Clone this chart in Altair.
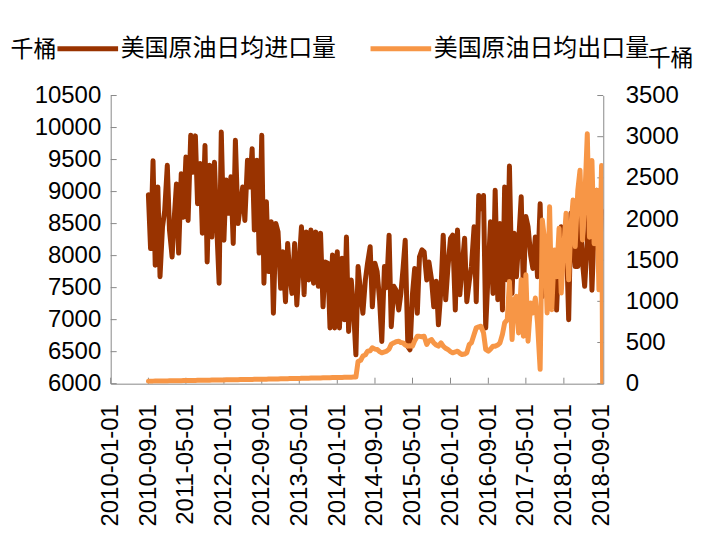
import altair as alt
import pandas as pd

# ---- data ----
import_vals = [
    8950, 8110, 9480, 7850, 9070, 7670, 8450, 8700, 9410, 8400,
    7980, 8600, 9120, 8040, 9280, 8600, 9540, 8550, 9880, 9300,
    9870, 8810, 9440, 8350, 9720, 7900, 9410, 8290, 9460, 8500,
    7570, 9930, 8240, 9180, 8660, 9230, 8190, 9800, 8500, 8760,
    9070, 8550, 9490, 9070, 9670, 8400, 9490, 8040, 9880, 7570,
    8840, 7750, 8530, 7100, 8500, 8370, 7490, 8060, 7280, 8190,
    7700, 7410, 8190, 7230, 7900, 8450, 7390, 8370, 7620, 8400,
    7570, 8370, 7520, 8350, 7200, 7900, 7880, 6870, 8010, 6870,
    8060, 6870, 7960, 7000, 8290, 6815, 7620, 7200, 6450, 7830,
    7410, 7100, 7620, 7880, 8140, 7200, 7880, 7750, 7300, 6660,
    7830, 7500, 8320, 6890, 7520, 7460, 7150, 7410, 7800, 8240,
    6580, 6530, 7410, 7800, 7100, 7980, 8090, 8060, 7620, 7900,
    7620, 7200, 7600, 6920, 7490, 8320, 7310, 7800, 8270, 8320,
    7150, 8400, 7390, 7800, 8270, 7280, 7600, 7830, 8450, 7280,
    8940, 8730, 8940, 6870, 7800, 8530, 7410, 9020, 7310, 8500,
    7150, 9070, 7620, 9400, 7410, 8350, 7670, 8200, 8920, 7410,
    8610, 8450, 8000, 7800, 8290, 7670, 8810, 7360, 8040, 8290,
    7700, 7310, 7800, 7150, 8140, 8450, 8100, 8450, 7000, 8660,
    8290, 7830, 7830, 8660, 7900, 7520, 8240, 9020, 7460, 8400,
    9020, 7830, 8700,
]

export_vals = [
    30, 31, 31, 32, 32, 33, 33, 34, 34, 35,
    35, 36, 36, 37, 37, 38, 38, 39, 39, 40,
    40, 41, 41, 42, 42, 43, 43, 44, 44, 45,
    45, 46, 46, 47, 47, 48, 48, 49, 49, 50,
    50, 51, 51, 52, 52, 53, 53, 54, 54, 55,
    55, 56, 56, 57, 58, 58, 59, 60, 60, 61,
    62, 62, 63, 64, 64, 65, 66, 66, 67, 68,
    68, 69, 70, 70, 71, 72, 72, 73, 74, 74,
    75, 76, 76, 77, 78, 78, 79, 80, 80, 270,
    285, 335, 350, 395, 400, 436, 420, 416, 390, 375,
    385, 395, 420, 480, 496, 510, 516, 500, 496, 470,
    456, 460, 456, 520, 577, 575, 570, 577, 476, 520,
    536, 496, 470, 456, 496, 456, 430, 416, 390, 375,
    385, 395, 370, 355, 360, 375, 476, 496, 597, 678,
    690, 698, 617, 416, 395, 420, 456, 456, 470, 496,
    600, 738, 778, 1242, 536, 1020, 1061, 617, 1262, 577,
    1323, 516, 980, 859, 1040, 738, 174, 1988, 1706, 859,
    2149, 899, 1625, 1300, 1887, 1101, 1665, 2069, 1262, 1900,
    2230, 1665, 2351, 2593, 1746, 2200, 3036, 1780, 2710, 1700,
    2350, 1140, 2650, 0,
]

dates = pd.date_range("2010-09-01", "2018-09-01", freq="SMS").strftime("%Y-%m-%d").tolist()
export_dates = dates + ["2018-09-08"]

tick_months = [(2010, 1), (2010, 9), (2011, 5), (2012, 1), (2012, 9), (2013, 5), (2014, 1),
               (2014, 9), (2015, 5), (2016, 1), (2016, 9), (2017, 5), (2018, 1), (2018, 9)]
left_ticks = [6000, 6500, 7000, 7500, 8000, 8500, 9000, 9500, 10000, 10500]
right_ticks = [0, 500, 1000, 1500, 2000, 2500, 3000, 3500]

names = ["美国原油日均进口量", "美国原油日均出口量"]
colors = ["#993300", "#F79646"]

df_imp = pd.DataFrame({"date": dates, "value": import_vals, "series": names[0]})
df_exp = pd.DataFrame({"date": export_dates, "value": export_vals, "series": names[1]})

W, H = 494, 289
AXIS_GRAY = "#898989"
NUM_FONT = "Liberation Sans"
CJK_FONT = "Noto Sans CJK SC"

tick_values = [alt.DateTime(year=y, month=m, date=1, utc=True) for y, m in tick_months]
xscale = alt.Scale(type="utc",
                   domain=[alt.DateTime(year=2010, month=1, date=1, utc=True),
                           alt.DateTime(year=2018, month=9, date=12, utc=True)])
lscale = alt.Scale(domain=[6000, 10500], nice=False, zero=False)
rscale = alt.Scale(domain=[0, 3500], nice=False)

xaxis = alt.Axis(values=tick_values, format="%Y-%m-%d", labelAngle=270,
                 labelPadding=20, ticks=False, grid=False, title=None,
                 labelFont=NUM_FONT, labelFontSize=24, labelColor="black",
                 domainColor=AXIS_GRAY, labelOverlap=False, labelBound=False,
                 labelFlush=False)

color = alt.Color("series:N", scale=alt.Scale(domain=names, range=colors),
                  legend=alt.Legend(orient="none", legendX=-56, legendY=-80,
                                    direction="horizontal", title=None,
                                    symbolType="stroke", symbolStrokeWidth=5,
                                    symbolSize=3700, labelFont=CJK_FONT,
                                    labelFontSize=24, labelColor="black",
                                    labelLimit=400,
                                    columnPadding=24, labelOffset=0))

imp = alt.Chart(df_imp).mark_line(strokeWidth=5, strokeJoin="round", strokeCap="round", clip=True).encode(
    x=alt.X("date:T", scale=xscale, axis=xaxis),
    y=alt.Y("value:Q", scale=lscale,
            axis=alt.Axis(orient="left", values=left_ticks, format="d", ticks=False, grid=False,
                          labelPadding=10, labelFont=NUM_FONT, labelFontSize=24,
                          labelColor="black", domainColor=AXIS_GRAY,
                          title="千桶", titleAngle=0, titleAlign="left",
                          titleBaseline="middle", titleX=-101, titleY=-46,
                          titleFont=CJK_FONT, titleFontSize=23,
                          titleFontWeight="normal", titleColor="black")),
    color=color,
)

exp = alt.Chart(df_exp).mark_line(strokeWidth=5, strokeJoin="round", strokeCap="round", clip=True).encode(
    x=alt.X("date:T", scale=xscale, axis=xaxis),
    y=alt.Y("value:Q", scale=rscale,
            axis=alt.Axis(orient="right", values=right_ticks, format="d", ticks=False, grid=False,
                          labelPadding=22, labelFont=NUM_FONT, labelFontSize=24,
                          labelColor="black", domainColor=AXIS_GRAY,
                          title="千桶", titleAngle=0, titleAlign="left",
                          titleBaseline="middle", titleX=44, titleY=-37,
                          titleFont=CJK_FONT, titleFontSize=23,
                          titleFontWeight="normal", titleColor="black")),
    color=color,
)

lt = alt.Chart(pd.DataFrame({"v": left_ticks})).mark_rule(color=AXIS_GRAY, strokeWidth=1).encode(
    y=alt.Y("v:Q", scale=lscale, axis=None), x=alt.value(0), x2=alt.value(6))
rt = alt.Chart(pd.DataFrame({"v": right_ticks})).mark_rule(color=AXIS_GRAY, strokeWidth=1).encode(
    y=alt.Y("v:Q", scale=rscale, axis=None), x=alt.value(W - 6), x2=alt.value(W))
bt = alt.Chart(pd.DataFrame({"d": [f"{y}-{m:02d}-01" for y, m in tick_months]})).mark_rule(
    color=AXIS_GRAY, strokeWidth=1).encode(
    x=alt.X("d:T", scale=xscale, axis=xaxis), y=alt.value(H - 6), y2=alt.value(H))

chart = alt.layer(lt, rt, bt, imp, exp).resolve_scale(y="independent").properties(
    width=W, height=H,
    padding={"left": 103, "top": 87, "right": 91, "bottom": 160},
    autosize=alt.AutoSizeParams(type="none"),
).configure_view(stroke=None)

chart.save("out.html", embed_options={"renderer": "svg", "actions": False})
